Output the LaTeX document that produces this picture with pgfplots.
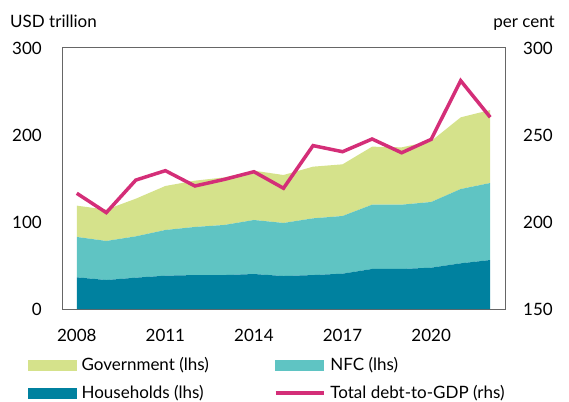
\documentclass[border=0pt]{standalone}
\usepackage{pgfplots}
\pgfplotsset{compat=1.18}
\usepackage{pgfplotstable}
\usepackage{fontspec}
\setmainfont{Lato}
\definecolor{govc}{HTML}{D5E28B}
\definecolor{nfcc}{HTML}{5FC4C3}
\definecolor{hhc}{HTML}{00819F}
\definecolor{linec}{HTML}{D42E78}
\definecolor{framec}{HTML}{666666}
\pgfplotstableread{
year hh nfc gov
2008 36.4 46.4 36.0
2009 33.3 44.9 36.0
2010 36.0 47.5 43.3
2011 38.3 52.5 50.6
2012 39.0 55.3 53.2
2013 39.0 57.6 54.7
2014 40.2 62.1 56.7
2015 37.9 61.0 55.1
2016 39.0 65.2 59.4
2017 40.6 66.3 59.4
2018 46.0 73.9 66.7
2019 46.0 73.9 65.9
2020 47.5 75.5 70.0
2021 52.5 85.4 82.4
2022 56.3 88.5 83.9
}\areadata
\pgfplotstableread{
year ratio
2008 216.5
2009 205.4
2010 224.1
2011 229.5
2012 220.7
2013 224.5
2014 228.9
2015 219.4
2016 243.9
2017 240.4
2018 247.7
2019 239.8
2020 247.5
2021 281.2
2022 260.2
}\linedata
\begin{document}
\fontsize{17}{20}\selectfont
\begin{tikzpicture}
\useasboundingbox (-62pt,-92pt) rectangle (507pt,309pt);
\begin{axis}[
  scale only axis, width=443pt, height=261pt,
  clip mode=individual,
  xmin=2007.5, xmax=2022.5, ymin=0, ymax=300,
  xtick={2008,2011,2014,2017,2020},
  ytick={0,100,200,300},
  major tick length=0pt,
  /pgf/number format/assume math mode=true,
  /pgf/number format/1000 sep={},
  axis line style={framec, line width=1pt},
  xticklabel style={inner sep=0pt, anchor=north, yshift=-20pt, font=\fontsize{17}{20}\selectfont},
  yticklabel style={inner sep=0pt, anchor=east, xshift=-20pt, font=\fontsize{17}{20}\selectfont},
  stack plots=y,
  legend columns=2,
  legend cell align=left,
  legend style={draw=none, fill=none, at={(0,0)}, anchor=north west, xshift=-34pt, yshift=-48pt,
    inner sep=0pt, row sep=12pt, column sep=0pt,
    nodes={inner xsep=5pt, inner ysep=0pt, font=\fontsize{17}{20}\selectfont}},
]
\addplot[draw=none, fill=hhc, forget plot] table[x=year, y=hh] {\areadata} \closedcycle;
\addplot[draw=none, fill=nfcc, forget plot] table[x=year, y=nfc] {\areadata} \closedcycle;
\addplot[draw=none, fill=govc, forget plot] table[x=year, y=gov] {\areadata} \closedcycle;
\addlegendimage{legend image code/.code={\fill[govc] (-5pt,-5pt) rectangle (43pt,5pt);}}
\addlegendentry{\makebox[187pt][l]{Government (lhs)}}
\addlegendimage{legend image code/.code={\fill[nfcc] (-5pt,-5pt) rectangle (43pt,5pt);}}
\addlegendentry{NFC (lhs)}
\addlegendimage{legend image code/.code={\fill[hhc] (-5pt,-5pt) rectangle (43pt,5pt);}}
\addlegendentry{\makebox[187pt][l]{Households (lhs)}}
\addlegendimage{legend image code/.code={\draw[linec, line width=3.8pt] (-5pt,0pt) -- (43pt,0pt);}}
\addlegendentry{Total debt-to-GDP (rhs)}
\node[anchor=base west, inner sep=0pt, xshift=-52pt, yshift=20pt] at (rel axis cs:0,1) {USD trillion};
\node[anchor=base east, inner sep=0pt, xshift=50pt, yshift=20pt] at (rel axis cs:1,1) {per cent};
\end{axis}
\begin{axis}[
  scale only axis, width=443pt, height=261pt,
  xmin=2007.5, xmax=2022.5, ymin=150, ymax=300,
  axis x line=none,
  axis y line*=right,
  y axis line style={draw=none},
  ytick={150,200,250,300},
  major tick length=0pt,
  /pgf/number format/assume math mode=true,
  yticklabel style={inner sep=0pt, anchor=west, xshift=18pt, font=\fontsize{17}{20}\selectfont},
]
\addplot[linec, line width=3.5pt, line join=miter] table[x=year, y=ratio] {\linedata};
\end{axis}
\end{tikzpicture}
\end{document}
